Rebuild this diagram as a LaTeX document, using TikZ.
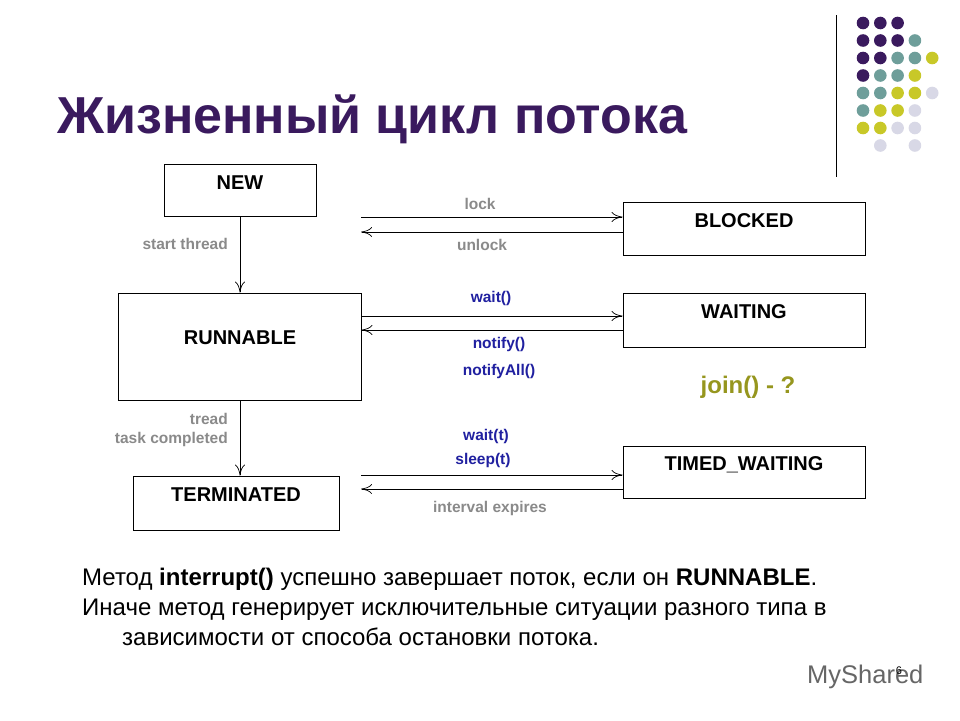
\documentclass[tikz,border=0pt]{standalone}
\usepackage{fontspec}
\setmainfont{Liberation Sans}
\usetikzlibrary{arrows.meta}
\definecolor{pp}{HTML}{3A1A5E}
\definecolor{tl}{HTML}{6E9E9A}
\definecolor{yl}{HTML}{C8C828}
\definecolor{lv}{HTML}{D8D8E6}
\definecolor{gl}{HTML}{8A8A8A}
\definecolor{bl}{HTML}{2020A0}
\begin{document}
\begin{tikzpicture}[x=1pt,y=-1pt,
  st/.style={draw,line width=0.8pt,inner sep=0pt},
  bt/.style={font=\fontsize{20}{22}\selectfont\bfseries},
  gt/.style={font=\fontsize{15.5}{17}\selectfont\bfseries,text=gl,inner sep=0pt},
  btx/.style={font=\fontsize{15.5}{17}\selectfont\bfseries,text=bl,inner sep=0pt},
  ar/.style={-{To[length=11pt,width=10pt]},line width=0.7pt}]
\useasboundingbox (0,0) rectangle (960,720);
\fill[white] (0,0) rectangle (960,720);
% dots
\draw[line width=0.8pt] (836,15) -- (836,177);
\foreach \r/\cols in {0/{0/pp,1/pp,2/pp},1/{0/pp,1/pp,2/pp,3/tl},2/{0/pp,1/pp,2/tl,3/tl,4/yl},3/{0/pp,1/tl,2/tl,3/yl},4/{0/tl,1/tl,2/yl,3/yl,4/lv},5/{0/tl,1/yl,2/yl,3/lv},6/{0/yl,1/yl,2/lv,3/lv},7/{1/lv,3/lv}}
  \foreach \c/\col in \cols \fill[\col] (863+17.3*\c,23+17.5*\r) circle (6.3);
% title
\node[anchor=base west,inner sep=0pt,text=pp,font=\fontsize{52}{56}\selectfont\bfseries] (title) at (57,133) {Жизненный цикл потока};
% boxes
\node[st,minimum width=152,minimum height=52] (new) at (240,190) {};
\node[bt,anchor=base] at (240,189) {NEW};
\node[st,minimum width=242,minimum height=53] (blk) at (744,228.5) {};
\node[bt,anchor=base] at (744,227) {BLOCKED};
\node[st,minimum width=243,minimum height=107] (run) at (239.5,346.5) {};
\node[bt,anchor=base] at (240,344) {RUNNABLE};
\node[st,minimum width=242,minimum height=54] (wait) at (744,320) {};
\node[bt,anchor=base] at (744,318) {WAITING};
\node[st,minimum width=242,minimum height=52] (tw) at (744,472) {};
\node[bt,anchor=base] at (744,470) {TIMED\_WAITING};
\node[st,minimum width=206,minimum height=54] (term) at (236,503) {};
\node[bt,anchor=base] at (236,501) {TERMINATED};
% vertical arrows
\draw[ar] (new.south -| 240,0) -- (run.north -| 240,0);
\draw[ar] (run.south -| 240,0) -- (term.north -| 240,0);
\node[gt,anchor=base east] at (228,249) {start thread};
\node[gt,anchor=base east] at (228,424) {tread};
\node[gt,anchor=base east] at (228,443) {task completed};
% horizontal
\coordinate (a1) at (361,217); \coordinate (a2) at (361,232);
\draw[ar] (a1) -- (a1 -| blk.west);
\draw[ar] (a2 -| blk.west) -- (a2);
\node[gt,anchor=base] at (480,209) {lock};
\node[gt,anchor=base] at (482,250) {unlock};
\draw[ar] (run.east |- 0,316) -- (wait.west |- 0,316);
\draw[ar] (wait.west |- 0,330) -- (run.east |- 0,330);
\node[btx,anchor=base] at (491,302) {wait()};
\node[btx,anchor=base] at (499,348) {notify()};
\node[btx,anchor=base] at (499,375) {notifyAll()};
\coordinate (b1) at (361,475); \coordinate (b2) at (361,489);
\draw[ar] (b1) -- (b1 -| tw.west);
\draw[ar] (b2 -| tw.west) -- (b2);
\node[btx,anchor=base] at (486,440) {wait(t)};
\node[btx,anchor=base] at (483,464) {sleep(t)};
\node[gt,anchor=base] at (490,512) {interval expires};
\node[anchor=base,inner sep=0pt,text=yl!75!black,font=\fontsize{24}{26}\selectfont\bfseries] (join) at (748,393) {join() - ?};
% text
\begin{scope}[every node/.style={anchor=base west,inner sep=0pt,font=\fontsize{24}{26}\selectfont}]
\node (t1) at (82,585) {Метод \textbf{interrupt()} успешно завершает поток, если он \textbf{RUNNABLE}.};
\node (t2) at (82,615) {Иначе метод генерирует исключительные ситуации разного типа в};
\node (t3) at (122,645) {зависимости от способа остановки потока.};
\end{scope}
\node[anchor=base west,inner sep=0pt,text=gray!80!black,font=\fontsize{25.5}{28}\selectfont] (wm) at (807,683) {MyShared};
\node[anchor=base,inner sep=0pt,font=\fontsize{11}{12}\selectfont] (pg) at (899,674) {6};
\end{tikzpicture}
\end{document}
